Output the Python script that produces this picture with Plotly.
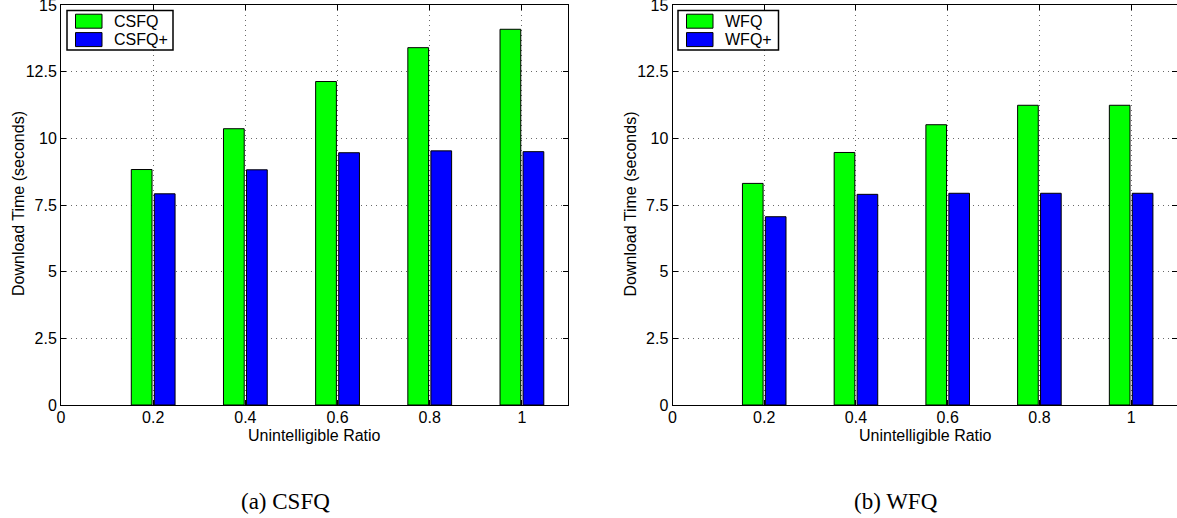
import plotly.graph_objects as go

ratios = [0.2, 0.4, 0.6, 0.8, 1.0]
csfq = [8.83, 10.36, 12.13, 13.40, 14.09]
csfq_plus = [7.92, 8.82, 9.46, 9.53, 9.50]
wfq = [8.31, 9.47, 10.51, 11.24, 11.24]
wfq_plus = [7.06, 7.90, 7.94, 7.94, 7.94]

x_ticks = [0, 0.2, 0.4, 0.6, 0.8, 1.0]
x_labels = ["0", "0.2", "0.4", "0.6", "0.8", "1"]
y_ticks = [0, 2.5, 5, 7.5, 10, 12.5, 15]
y_labels = ["0", "2.5", "5", "7.5", "10", "12.5", "15"]

GREEN = "#00FF00"
BLUE = "#0000FF"
SANS = "Liberation Sans, Arial, Helvetica, sans-serif"
SERIF = "Liberation Serif, Times New Roman, serif"
FS = 16

W, H = 1177, 518
ydom = [1 - 405 / H, 1 - 5 / H]
xdom1 = [61 / W, 568 / W]
xdom2 = [672.5 / W, 1.0]

panels = [
    dict(xa="x", ya="y", left=61, right=568, series=[("CSFQ", csfq, GREEN), ("CSFQ+", csfq_plus, BLUE)],
         legend_left=67, legend_w=106, caption="(a) CSFQ", cap_x=285),
    dict(xa="x2", ya="y2", left=672.5, right=1179, series=[("WFQ", wfq, GREEN), ("WFQ+", wfq_plus, BLUE)],
         legend_left=678, legend_w=100.5, caption="(b) WFQ", cap_x=896),
]

fig = go.Figure()
line = dict(color="black", width=1)
for p in panels:
    for name, vals, col in p["series"]:
        fig.add_trace(go.Bar(x=ratios, y=vals, name=name, marker=dict(color=col, line=line),
                             xaxis=p["xa"], yaxis=p["ya"], showlegend=False))

GRID = "#6a6a6a"
common_x = dict(range=[0, 1.1], tickvals=x_ticks, ticktext=x_labels, showgrid=True,
                gridcolor=GRID, griddash="1px,4px", gridwidth=1,
                showline=True, linecolor="black", linewidth=1, mirror="allticks",
                ticks="inside", ticklen=5, tickcolor="black", zeroline=False,
                automargin=False, ticklabelstandoff=-2, ticklabeloverflow="allow",
                tickfont=dict(family=SANS, size=FS, color="black"), fixedrange=True)
common_y = dict(range=[0, 15], tickvals=y_ticks, ticktext=y_labels, showgrid=True,
                gridcolor=GRID, griddash="1px,4px", gridwidth=1,
                showline=True, linecolor="black", linewidth=1, mirror="allticks",
                ticks="inside", ticklen=5, tickcolor="black", zeroline=False,
                automargin=False, fixedrange=True, ticklabeloverflow="allow",
                tickfont=dict(family=SANS, size=FS, color="black"), domain=ydom)

fig.update_layout(
    width=W, height=H,
    margin=dict(l=0, r=0, t=0, b=0, autoexpand=False),
    paper_bgcolor="white", plot_bgcolor="white",
    barmode="group", bargap=0.5, bargroupgap=0.1,
    xaxis=dict(domain=xdom1, anchor="y", **common_x),
    yaxis=dict(anchor="x", **common_y),
    xaxis2=dict(domain=xdom2, anchor="y2", **common_x),
    yaxis2=dict(anchor="x2", **common_y),
    showlegend=False,
)


def px(x):
    return x / W


def py(y):
    return 1 - y / H


# axis titles, captions and hand-drawn MATLAB-style legends
for p in panels:
    mid = (p["left"] + p["right"]) / 2
    fig.add_annotation(text="Unintelligible Ratio", x=px(mid), y=py(435),
                       font=dict(family=SANS, size=FS, color="black"))
    fig.add_annotation(text="Download Time (seconds)", x=px(p["left"] - 43), y=py(204), textangle=-90,
                       font=dict(family=SANS, size=FS, color="black"))
    fig.add_annotation(text=p["caption"], x=px(p["cap_x"]), y=py(501),
                       font=dict(family=SERIF, size=23, color="black"))

    L = p["legend_left"]
    top, bot = 10.5, 50
    fig.add_shape(type="rect", xref="paper", yref="paper",
                  x0=px(L), x1=px(L + p["legend_w"]), y0=py(bot), y1=py(top),
                  fillcolor="white", line=dict(color="black", width=1.5), layer="above")
    for i, (name, vals, col) in enumerate(p["series"]):
        yc = 21.2 + i * 18.4
        fig.add_shape(type="rect", xref="paper", yref="paper",
                      x0=px(L + 8.5), x1=px(L + 35), y0=py(yc + 7), y1=py(yc - 7),
                      fillcolor=col, line=dict(color="black", width=1), layer="above")
        fig.add_annotation(text=name, x=px(L + 44.5), y=py(yc), xanchor="left",
                           font=dict(family=SANS, size=FS, color="black"))

for a in fig.layout.annotations:
    a.update(xref="paper", yref="paper", showarrow=False, yanchor="middle")
    if a.xanchor is None:
        a.update(xanchor="center")

fig.write_html("out.html", config={"displayModeBar": False, "staticPlot": True},
               post_script="document.body.style.margin='0';document.body.style.overflow='hidden';")
